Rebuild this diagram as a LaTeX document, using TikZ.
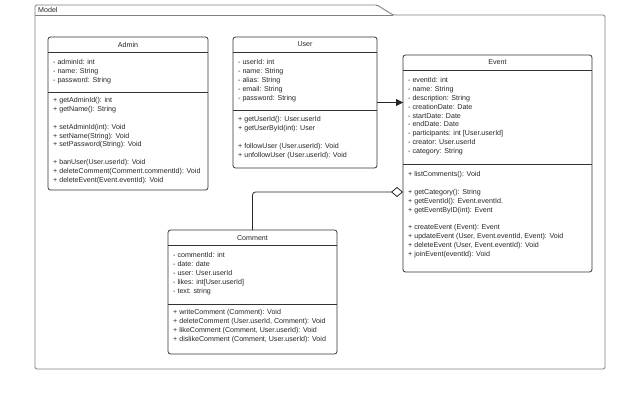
\documentclass[tikz,border=0pt]{standalone}
\usepackage{fontspec}
\setmainfont{Liberation Sans}
\usetikzlibrary{arrows.meta}
\begin{document}
\begin{tikzpicture}[x=1pt,y=-1pt,
  frame/.style={draw=black!50, line width=0.9pt, rounded corners=1.5pt},
  cls/.style={draw=black!80, line width=0.8pt, rounded corners=2.5pt, fill=white, anchor=north west, inner sep=0pt, outer sep=0pt},
  sep/.style={draw=black!80, line width=0.8pt},
  txt/.style={anchor=north west, inner sep=0pt, align=left, font=\fontsize{7.1}{8.8}\selectfont, text=black!85, execute at begin node={\rule{0pt}{6pt}}},
  ttl/.style={inner sep=0pt, font=\fontsize{7.1}{8}\selectfont, text=black!85},
  conn/.style={draw=black!85, line width=0.8pt}
]
\useasboundingbox (0,0) rectangle (636,401);

% package frame
\draw[frame] (35,369) -- (35,5) -- (377,5) -- (393,15) -- (605,15) -- (605,369) -- cycle;
\draw[frame, rounded corners=0pt] (35,15) -- (393,15);
\node[ttl, anchor=west] (model) at (38,10) {Model};

% Admin
\node[cls, minimum width=160pt, minimum height=153pt] (admin) at (48,37) {};
\node[ttl] (admint) at (128,44.5) {Admin};
\draw[sep] (48,52) -- (208,52);
\draw[sep] (48,92) -- (208,92);
\node[txt] (admina) at (53,59.5) {- adminId: int\\- name: String\\- password: String};
\node[txt] (adminm) at (53,97.5) {+ getAdminId(): int\\+ getName(): String\\[8.8pt]+ setAdminId(int): Void\\+ setName(String): Void\\+ setPassword(String): Void\\[8.8pt]+ banUser(User.userId): Void\\+ deleteComment(Comment.commentId): Void\\+ deleteEvent(Event.eventId): Void};

% User
\node[cls, minimum width=144pt, minimum height=131pt] (user) at (233,37) {};
\node[ttl] (usert) at (305,44.5) {User};
\draw[sep] (233,52) -- (377,52);
\draw[sep] (233,110) -- (377,110);
\node[txt] (usera) at (238,59.5) {- userId: int\\- name: String\\- alias: String\\- email: String\\- password: String};
\node[txt] (userm) at (238,116.5) {+ getUserId(): User.userId\\+ getUserById(int): User\\[8.8pt]+ followUser (User.userId): Void\\+ unfollowUser (User.userId): Void};

% Event
\node[cls, minimum width=189pt, minimum height=217pt] (event) at (403,55) {};
\node[ttl] (eventt) at (497.5,62.5) {Event};
\draw[sep] (403,70) -- (592,70);
\draw[sep] (403,164) -- (592,164);
\node[txt] (eventa) at (408,77.5) {- eventId: int\\- name: String\\- description: String\\- creationDate: Date\\- startDate: Date\\- endDate: Date\\- participants: int [User.userId]\\- creator: User.userId\\- category: String};
\node[txt] (eventm) at (408,171.5) {+ listComments(): Void\\[8.8pt]+ getCategory(): String\\+ getEventId(): Event.eventId.\\+ getEventByID(int): Event\\[8.8pt]+ createEvent (Event): Event\\+ updateEvent (User, Event.eventId, Event): Void\\+ deleteEvent (User, Event.eventId): Void\\+ joinEvent(eventId): Void};

% Comment
\node[cls, minimum width=169pt, minimum height=124pt] (comment) at (168,230) {};
\node[ttl] (commentt) at (252.5,238) {Comment};
\draw[sep] (168,245) -- (337,245);
\draw[sep] (168,304) -- (337,304);
\node[txt] (commenta) at (173,252.5) {- commentId: int\\- date: date\\- user: User.userId\\- likes: int[User.userId]\\- text: string};
\node[txt] (commentm) at (173,309.5) {+ writeComment (Comment): Void\\+ deleteComment (User.userId, Comment): Void\\+ likeComment (Comment, User.userId): Void\\+ dislikeComment (Comment, User.userId): Void};

% connectors
\draw[conn, -{Triangle[length=7pt,width=7pt]}] (user.east) -- (user.east -| event.west);
\draw[conn, rounded corners=3pt, -{Diamond[open,length=12pt,width=10pt,fill=white]}] (comment.north) |- (event.west |- 0,192);
\end{tikzpicture}
\end{document}
